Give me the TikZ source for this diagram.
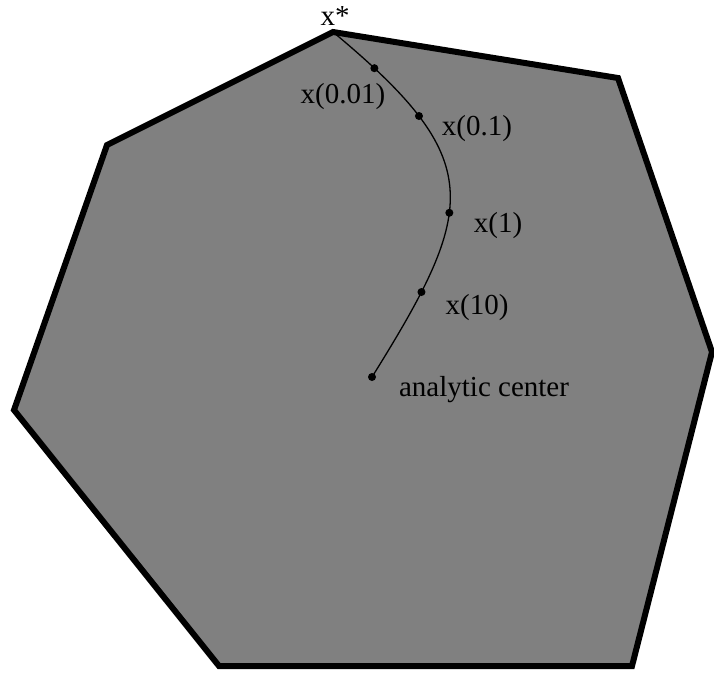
\documentclass[tikz,border=0pt]{standalone}
\usepackage{fontspec}
\setmainfont{Liberation Serif}
\usetikzlibrary{positioning, calc}

\begin{document}
\begin{tikzpicture}[x=1pt, y=-1pt,
    lbl/.style={inner sep=0pt, font=\fontsize{29}{31}\selectfont},
    dot/.style={circle, fill=black, inner sep=0pt, minimum size=8pt}]
    \useasboundingbox (0,0) rectangle (714,675);
    % feasible set
    \draw[line width=6pt, line join=miter, fill=black!50]
        (333,32) -- (618,78) -- (712,352) -- (632,666) -- (219,666)
        -- (14,410) -- (107,145) -- cycle;
    % central path
    \coordinate (xstar) at (333,32);
    \coordinate (acenter) at (372,377);
    \draw[line width=1.3pt] (xstar) .. controls (487,160) and (478,207) .. (acenter)
        node[dot, pos=0.1] (x001) {}
        node[dot, pos=0.25] (x01) {}
        node[dot, pos=0.58] (x1) {}
        node[dot, pos=0.81] (x10) {}
        node[dot, pos=1] (center) {};
    % labels
    \node[lbl] (lstar) at (335,16) {x*};
    \node[lbl] (l001) at (343,97) {x(0.01)};
    \node[lbl] (l01) at (477,129) {x(0.1)};
    \node[lbl] (l1) at (498,226) {x(1)};
    \node[lbl] (l10) at (477,308) {x(10)};
    \node[lbl] (lcenter) at (484,390) {analytic center};
\end{tikzpicture}
\end{document}
